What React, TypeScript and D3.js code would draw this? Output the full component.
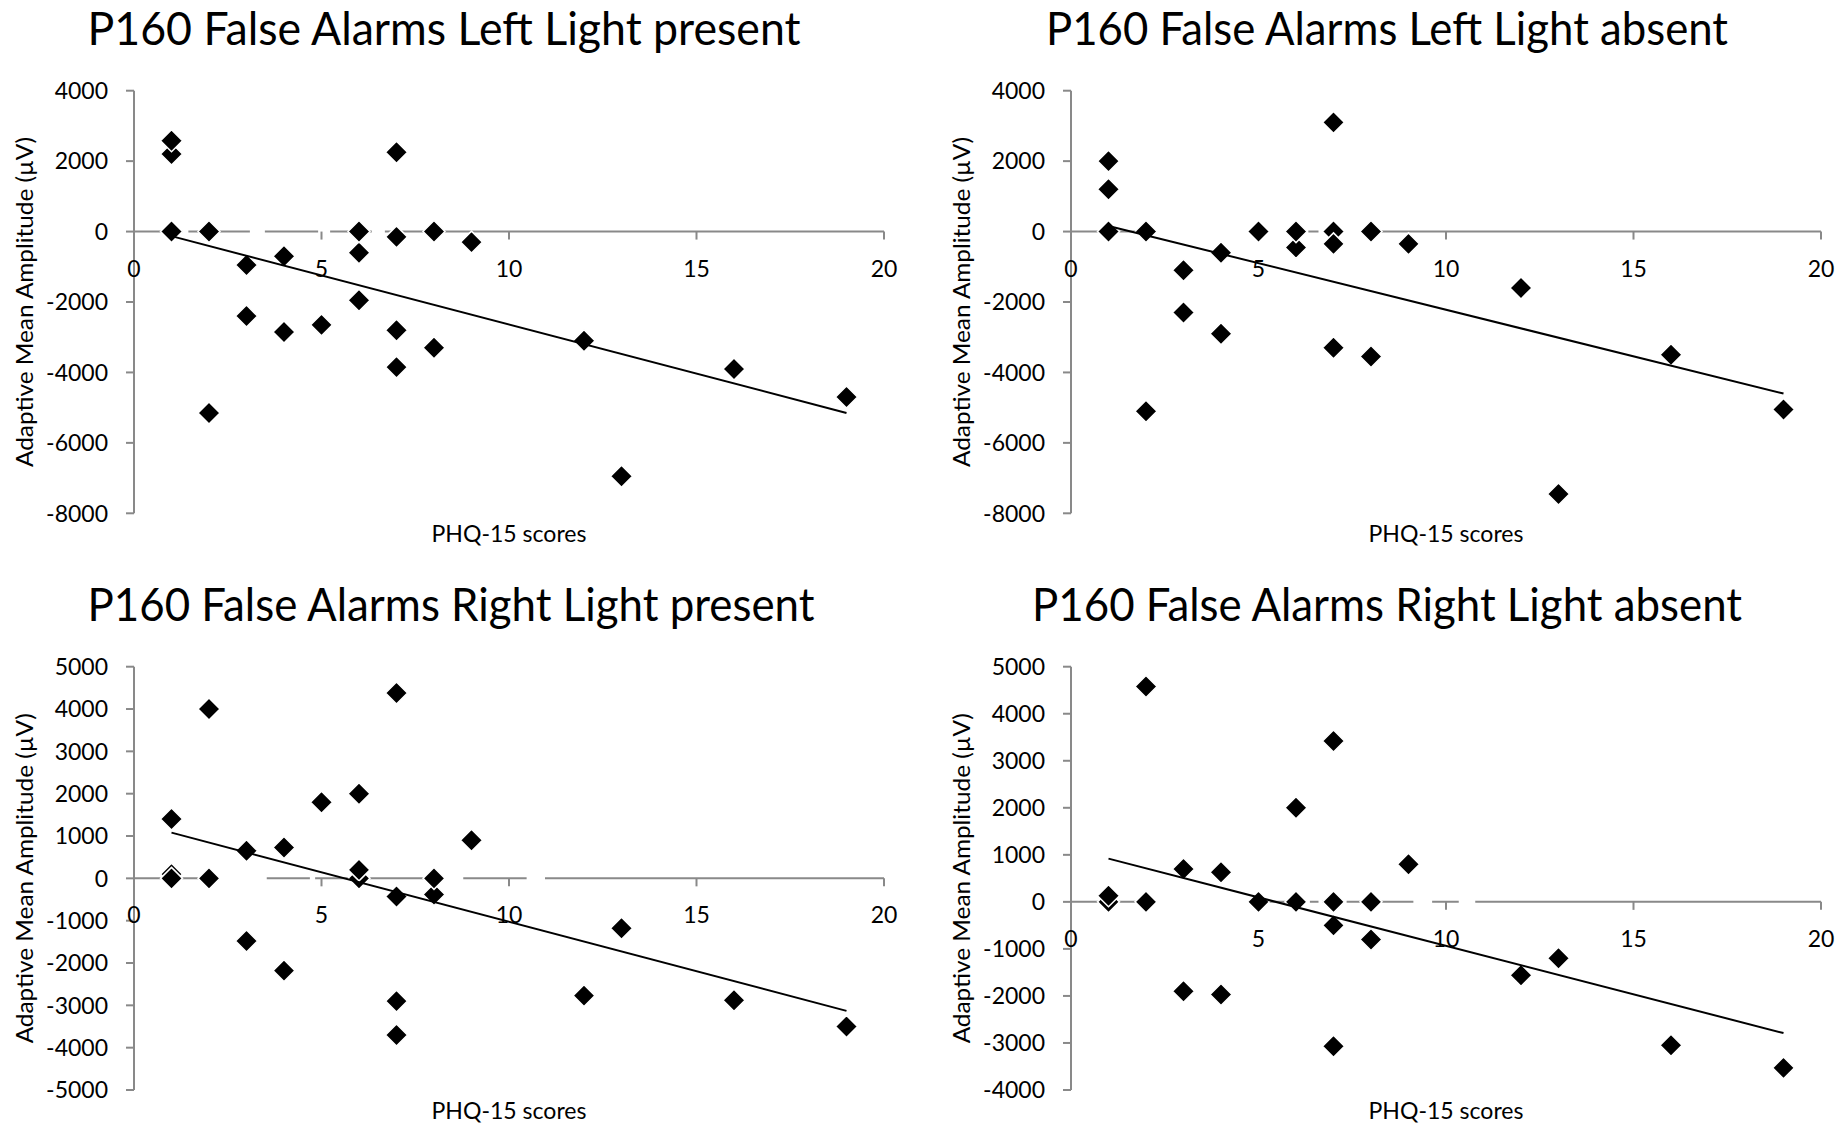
import React from "react";
import * as d3 from "d3";

// ---------- data ----------
const titles = [
  "P160 False Alarms Left Light present",
  "P160 False Alarms Left Light absent",
  "P160 False Alarms Right Light present",
  "P160 False Alarms Right Light absent",
];
const xLabel = "PHQ-15 scores";
const yLabel = "Adaptive Mean Amplitude (\u00b5V)";
const xTicks = [0, 5, 10, 15, 20];
const yTicksTop = [4000, 2000, 0, -2000, -4000, -6000, -8000];
const yTicksBL = [5000, 4000, 3000, 2000, 1000, 0, -1000, -2000, -3000, -4000, -5000];
const yTicksBR = [5000, 4000, 3000, 2000, 1000, 0, -1000, -2000, -3000, -4000];

const tlX = [1, 1, 1, 2, 2, 3, 3, 4, 4, 5, 6, 6, 6, 7, 7, 7, 7, 8, 8, 9, 12, 13, 16, 19];
const tlY = [2200, 2580, 0, 0, -5150, -950, -2400, -700, -2850, -2650, -600, 0, -1950, 2250, -150, -2800, -3850, 0, -3300, -300, -3100, -6950, -3900, -4700];

const trX = [1, 1, 1, 2, 2, 3, 3, 4, 4, 5, 6, 6, 7, 7, 7, 7, 8, 8, 9, 12, 13, 16, 19];
const trY = [2000, 1200, 0, 0, -5100, -1100, -2300, -600, -2900, 0, -450, 0, 3100, 0, -350, -3300, 0, -3550, -350, -1600, -7450, -3500, -5050];

const blX = [1, 1, 1, 2, 2, 3, 3, 4, 4, 5, 6, 6, 6, 7, 7, 7, 7, 8, 8, 9, 12, 13, 16, 19];
const blY = [1400, 100, 0, 4000, 0, 650, -1480, 730, -2180, 1800, 2000, 0, 200, 4380, -430, -2900, -3700, -380, 0, 900, -2770, -1180, -2880, -3500];

const brX = [1, 1, 2, 2, 3, 3, 4, 4, 5, 6, 6, 7, 7, 7, 7, 8, 8, 9, 12, 13, 16, 19];
const brY = [0, 130, 4580, 0, 700, -1900, 630, -1970, 0, 2000, 0, 3420, 0, -500, -3070, 0, -800, 800, -1560, -1200, -3050, -3530];

const trendX = [1, 19];
const tlTrend = [-130, -5150];
const trTrend = [160, -4600];
const blTrend = [1080, -3130];
const brTrend = [920, -2790];

// white breaks on the zero line (x ranges)
const tlGaps = [[1.29, 1.45], [3.09, 3.49], [4.91, 5.23], [6.34, 6.69]];
const trGaps = [[2.25, 6.33], [6.6, 8.0]];
const blGaps = [[2.28, 3.54], [4.69, 4.83], [8.25, 8.78], [10.47, 10.96]];
const brGaps = [[2.25, 4.72], [6.24, 6.37], [6.6, 6.7], [7.26, 7.35], [9.13, 9.63], [10.34, 10.78]];

// ---------- layout ----------
const FONT = "Lato, 'Open Sans', sans-serif";
const AXIS = "#898989";

type PanelProps = {
  title: string;
  titleX: number;
  titleY: number;
  titleLen: number;
  left: number;
  right: number;
  top: number;
  bottom: number;
  yTicks: number[];
  xs: number[];
  ys: number[];
  trend: number[];
  gaps: number[][];
};

function Panel(p: PanelProps) {
  const x = d3.scaleLinear().domain([0, 20]).range([p.left, p.right]);
  const yMax = d3.max(p.yTicks) as number;
  const yMin = d3.min(p.yTicks) as number;
  const y = d3.scaleLinear().domain([yMin, yMax]).range([p.bottom, p.top]);
  const y0 = y(0);
  const r = 11;
  const diamond = `M0,${-r}L${r},0L0,${r}L${-r},0Z`;
  const line = d3
    .line<number>()
    .x((_, i) => x(trendX[i]))
    .y((d) => y(d));
  return (
    <g>
      <text
        x={p.titleX}
        y={p.titleY}
        textAnchor="middle"
        fontFamily={FONT}
        fontSize={46}
        textLength={p.titleLen}
        lengthAdjust="spacingAndGlyphs"
        fill="#000"
      >
        {p.title}
      </text>
      {/* y axis */}
      <line x1={x(0)} x2={x(0)} y1={y(yMax)} y2={y(yMin)} stroke={AXIS} strokeWidth={2} />
      {p.yTicks.map((t) => (
        <g key={"yt" + t}>
          <line x1={x(0) - 8} x2={x(0)} y1={y(t)} y2={y(t)} stroke={AXIS} strokeWidth={2} />
          <text
            x={x(0) - 26}
            y={y(t)}
            dy="0.36em"
            textAnchor="end"
            fontFamily={FONT}
            fontSize={23}
            fill="#000"
          >
            {t}
          </text>
        </g>
      ))}
      {/* x axis at zero */}
      <line x1={x(0)} x2={x(20)} y1={y0} y2={y0} stroke={AXIS} strokeWidth={2} />
      {p.gaps.map((g, i) => (
        <line key={"g" + i} x1={x(g[0])} x2={x(g[1])} y1={y0} y2={y0} stroke="#fff" strokeWidth={4} />
      ))}
      {xTicks.map((t) => (
        <g key={"xt" + t}>
          <line x1={x(t)} x2={x(t)} y1={y0} y2={y0 + 8} stroke={AXIS} strokeWidth={2} />
          <text x={x(t)} y={y0 + 45} textAnchor="middle" fontFamily={FONT} fontSize={23} fill="#000">
            {t}
          </text>
        </g>
      ))}
      {/* points */}
      {p.xs.map((xv, i) => (
        <path
          key={"p" + i}
          d={diamond}
          transform={`translate(${x(xv)},${y(p.ys[i])})`}
          fill="#000"
          stroke="#fff"
          strokeWidth={1.5}
        />
      ))}
      {/* trendline */}
      <path d={line(p.trend) as string} fill="none" stroke="#000" strokeWidth={2} />
      {/* axis labels */}
      <text
        x={(x(0) + x(20)) / 2}
        y={p.bottom + 29}
        textAnchor="middle"
        fontFamily={FONT}
        fontSize={23}
        textLength={155}
        lengthAdjust="spacingAndGlyphs"
        fill="#000"
      >
        {xLabel}
      </text>
      <text
        transform={`translate(${x(0) - 101},${(p.top + p.bottom) / 2}) rotate(-90)`}
        textAnchor="middle"
        fontFamily={FONT}
        fontSize={23}
        textLength={330}
        lengthAdjust="spacingAndGlyphs"
        fill="#000"
      >
        {yLabel}
      </text>
    </g>
  );
}

export default function App() {
  return (
    <svg
      width={1838}
      height={1125}
      style={{ position: "absolute", left: 0, top: 0, background: "#fff" }}
    >
      <rect width={1838} height={1125} fill="#fff" />
      <Panel
        title={titles[0]}
        titleX={444}
        titleY={45}
        titleLen={713}
        left={134}
        right={884}
        top={90.7}
        bottom={513.3}
        yTicks={yTicksTop}
        xs={tlX}
        ys={tlY}
        trend={tlTrend}
        gaps={tlGaps}
      />
      <Panel
        title={titles[1]}
        titleX={1387}
        titleY={45}
        titleLen={682}
        left={1071}
        right={1821}
        top={90.7}
        bottom={513.3}
        yTicks={yTicksTop}
        xs={trX}
        ys={trY}
        trend={trTrend}
        gaps={trGaps}
      />
      <Panel
        title={titles[2]}
        titleX={451}
        titleY={621}
        titleLen={727}
        left={134}
        right={884}
        top={666.7}
        bottom={1090}
        yTicks={yTicksBL}
        xs={blX}
        ys={blY}
        trend={blTrend}
        gaps={blGaps}
      />
      <Panel
        title={titles[3]}
        titleX={1387}
        titleY={621}
        titleLen={710}
        left={1071}
        right={1821}
        top={666.7}
        bottom={1090}
        yTicks={yTicksBR}
        xs={brX}
        ys={brY}
        trend={brTrend}
        gaps={brGaps}
      />
    </svg>
  );
}
